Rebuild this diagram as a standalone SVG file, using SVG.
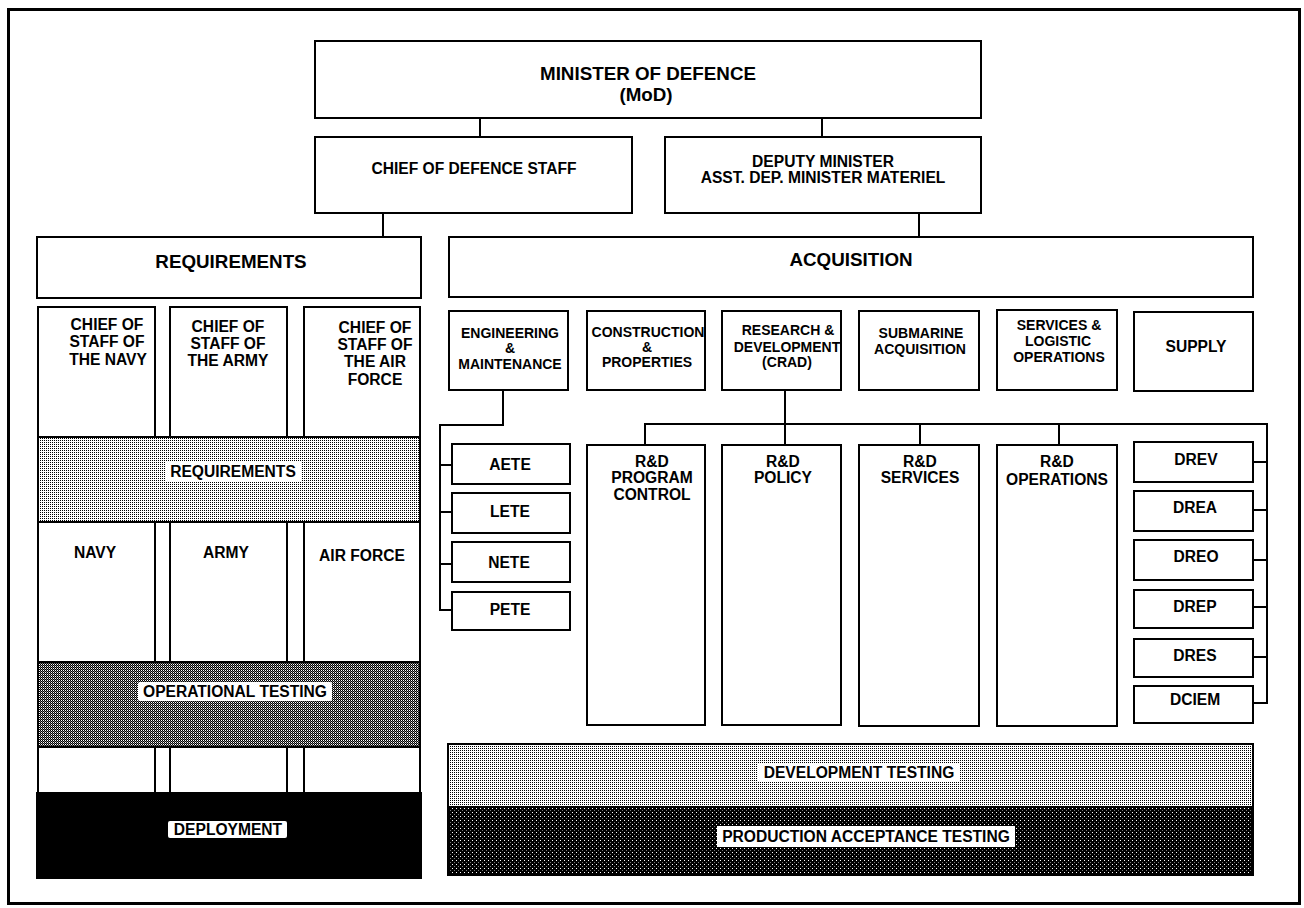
<svg xmlns="http://www.w3.org/2000/svg" width="1304" height="908" viewBox="0 0 1304 908">
<defs>
<pattern id="lightDot" width="2" height="2" patternUnits="userSpaceOnUse">
<rect width="2" height="2" fill="#fff"/>
<rect width="1" height="1" fill="#000"/>
</pattern>
<pattern id="midDot" width="2" height="2" patternUnits="userSpaceOnUse">
<rect width="2" height="2" fill="#000"/>
<rect x="1" y="0" width="1" height="1" fill="#fff"/>
<rect x="0" y="1" width="1" height="1" fill="#777"/>
</pattern>
<pattern id="darkDot" width="4" height="4" patternUnits="userSpaceOnUse">
<rect width="4" height="4" fill="#000"/>
<rect x="0" y="0" width="1" height="1" fill="#fff"/>
<rect x="2" y="2" width="1" height="1" fill="#777"/>
</pattern>
<style>
.box{fill:#fff;stroke:#000;stroke-width:2}
.line{fill:none;stroke:#000;stroke-width:2}
text{font-family:"Liberation Sans",Arial,Helvetica,sans-serif;font-weight:bold;fill:#000;text-anchor:middle}
.big{font-size:18.8px}
.med{font-size:15.6px}
.sm{font-size:14px}
.bg{fill:#fff;stroke:none}
</style>
</defs>
<rect x="0" y="0" width="1304" height="908" fill="#fff"/>
<rect x="8.5" y="9.5" width="1291" height="894" fill="none" stroke="#000" stroke-width="3"/>

<g id="connectors">
<path class="line" d="M480 118V137M822 118V137M383 213V237M919 213V237"/>
<path class="line" d="M503 390V425H440V610H452M440 465H452M440 512H452M440 564H452"/>
<path class="line" d="M785 390V445M645 445V424H1267V703H1253M920 424V445M1059 424V445M1253 462H1267M1253 510H1267M1253 560H1267M1253 607H1267M1253 657H1267"/>
</g>

<g id="mod"><rect class="box" x="315" y="41" width="666" height="77"/>
<text class="big" x="648" y="80">MINISTER OF DEFENCE</text><text class="big" x="646" y="101">(MoD)</text></g>
<g id="cds"><rect class="box" x="315" y="137" width="317" height="76"/>
<text class="med" x="474" y="174">CHIEF OF DEFENCE STAFF</text></g>
<g id="deputy"><rect class="box" x="665" y="137" width="316" height="76"/>
<text class="med" x="823" y="167">DEPUTY MINISTER</text><text class="med" x="823" y="183">ASST. DEP. MINISTER MATERIEL</text></g>
<g id="requirements"><rect class="box" x="37" y="237" width="384" height="61"/>
<text class="big" x="231" y="268">REQUIREMENTS</text></g>
<g id="acquisition"><rect class="box" x="449" y="237" width="804" height="60"/>
<text class="big" x="851" y="266">ACQUISITION</text></g>

<g id="col-navy"><rect class="box" x="38" y="307" width="117" height="486"/>
<text class="med" x="107" y="330">CHIEF OF</text><text class="med" x="107" y="347">STAFF OF</text><text class="med" x="108" y="365">THE NAVY</text>
<text class="med" x="95" y="558">NAVY</text></g>
<g id="col-army"><rect class="box" x="170" y="307" width="117" height="486"/>
<text class="med" x="228" y="332">CHIEF OF</text><text class="med" x="228" y="349">STAFF OF</text><text class="med" x="228" y="366">THE ARMY</text>
<text class="med" x="226" y="558">ARMY</text></g>
<g id="col-airforce"><rect class="box" x="304" y="307" width="116" height="486"/>
<text class="med" x="375" y="333">CHIEF OF</text><text class="med" x="375" y="350">STAFF OF</text><text class="med" x="375" y="367">THE AIR</text><text class="med" x="375" y="385">FORCE</text>
<text class="med" x="362" y="561">AIR FORCE</text></g>

<g id="band-requirements"><rect x="38" y="437" width="382" height="85" fill="url(#lightDot)" stroke="#000" stroke-width="2"/>
<rect class="bg" x="166" y="462" width="136" height="20"/>
<text class="med" x="233" y="477">REQUIREMENTS</text></g>
<g id="band-optest"><rect x="38" y="662" width="382" height="85" fill="url(#midDot)" stroke="#000" stroke-width="2"/>
<rect class="bg" x="138" y="682" width="194" height="19" rx="2"/>
<text class="med" x="235" y="697">OPERATIONAL TESTING</text></g>
<g id="band-deployment"><rect x="37" y="793" width="384" height="85" fill="#000" stroke="#000" stroke-width="2"/>
<rect class="bg" x="168" y="821" width="119" height="17" rx="2"/>
<text class="med" x="228" y="835">DEPLOYMENT</text></g>

<g id="eng"><rect class="box" x="449" y="311" width="119" height="79"/>
<text class="sm" x="510" y="338">ENGINEERING</text><text class="sm" x="510" y="353">&amp;</text><text class="sm" x="510" y="369">MAINTENANCE</text></g>
<g id="construction"><rect class="box" x="587" y="311" width="118" height="79"/>
<text class="sm" x="648" y="337">CONSTRUCTION</text><text class="sm" x="647" y="352">&amp;</text><text class="sm" x="647" y="367">PROPERTIES</text></g>
<g id="rd"><rect class="box" x="722" y="311" width="119" height="79"/>
<text class="sm" x="788" y="335">RESEARCH &amp;</text><text class="sm" x="787" y="352">DEVELOPMENT</text><text class="sm" x="787" y="367">(CRAD)</text></g>
<g id="submarine"><rect class="box" x="859" y="311" width="120" height="79"/>
<text class="sm" x="921" y="338">SUBMARINE</text><text class="sm" x="920" y="354">ACQUISITION</text></g>
<g id="services"><rect class="box" x="997" y="310" width="120" height="80"/>
<text class="sm" x="1059" y="330">SERVICES &amp;</text><text class="sm" x="1058" y="346">LOGISTIC</text><text class="sm" x="1059" y="362">OPERATIONS</text></g>
<g id="supply"><rect class="box" x="1134" y="312" width="119" height="79"/>
<text class="med" x="1196" y="352">SUPPLY</text></g>

<g id="aete"><rect class="box" x="452" y="444" width="118" height="40"/><text class="med" x="510" y="470">AETE</text></g>
<g id="lete"><rect class="box" x="452" y="493" width="118" height="40"/><text class="med" x="510" y="517">LETE</text></g>
<g id="nete"><rect class="box" x="452" y="542" width="118" height="40"/><text class="med" x="509" y="568">NETE</text></g>
<g id="pete"><rect class="box" x="452" y="592" width="118" height="38"/><text class="med" x="510" y="615">PETE</text></g>

<g id="rd-program"><rect class="box" x="587" y="445" width="118" height="280"/>
<text class="med" x="652" y="467">R&amp;D</text><text class="med" x="652" y="483">PROGRAM</text><text class="med" x="652" y="500">CONTROL</text></g>
<g id="rd-policy"><rect class="box" x="722" y="445" width="119" height="280"/>
<text class="med" x="783" y="467">R&amp;D</text><text class="med" x="783" y="483">POLICY</text></g>
<g id="rd-services"><rect class="box" x="859" y="445" width="120" height="281"/>
<text class="med" x="920" y="467">R&amp;D</text><text class="med" x="920" y="483">SERVICES</text></g>
<g id="rd-operations"><rect class="box" x="997" y="445" width="120" height="281"/>
<text class="med" x="1057" y="467">R&amp;D</text><text class="med" x="1057" y="485">OPERATIONS</text></g>

<g id="drev"><rect class="box" x="1134" y="442" width="119" height="40"/><text class="med" x="1196" y="465">DREV</text></g>
<g id="drea"><rect class="box" x="1134" y="491" width="119" height="40"/><text class="med" x="1195" y="513">DREA</text></g>
<g id="dreo"><rect class="box" x="1134" y="540" width="119" height="40"/><text class="med" x="1196" y="562">DREO</text></g>
<g id="drep"><rect class="box" x="1134" y="590" width="119" height="38"/><text class="med" x="1195" y="612">DREP</text></g>
<g id="dres"><rect class="box" x="1134" y="639" width="119" height="38"/><text class="med" x="1195" y="661">DRES</text></g>
<g id="dciem"><rect class="box" x="1134" y="686" width="119" height="37"/><text class="med" x="1195" y="705">DCIEM</text></g>

<g id="band-devtest"><rect x="448" y="744" width="805" height="63" fill="url(#lightDot)" stroke="#000" stroke-width="2"/>
<rect class="bg" x="758" y="763" width="202" height="19"/>
<text class="med" x="859" y="778">DEVELOPMENT TESTING</text></g>
<g id="band-prodtest"><rect x="448" y="807" width="805" height="68" fill="url(#darkDot)" stroke="#000" stroke-width="2"/>
<rect class="bg" x="717" y="826" width="298" height="21"/>
<text class="med" x="866" y="842">PRODUCTION ACCEPTANCE TESTING</text></g>
</svg>
